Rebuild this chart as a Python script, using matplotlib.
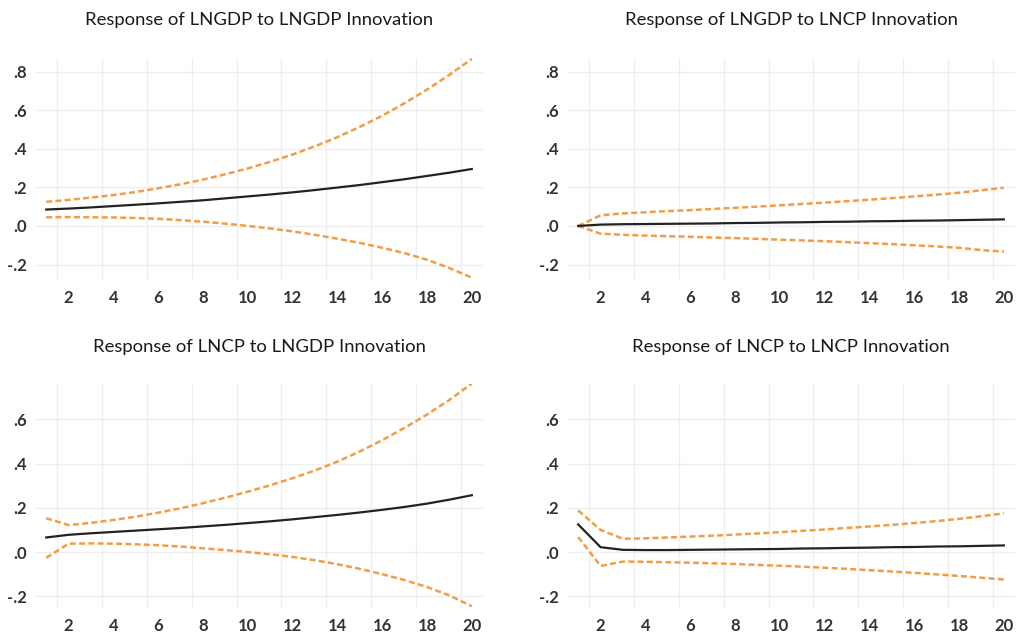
import matplotlib
matplotlib.use("Agg")
import matplotlib.pyplot as plt

periods = list(range(1, 21))

# Response of LNGDP to LNGDP Innovation
gdp_gdp = [0.085, 0.090, 0.096, 0.103, 0.110, 0.117, 0.125, 0.133, 0.143, 0.153,
           0.163, 0.174, 0.186, 0.199, 0.212, 0.227, 0.242, 0.259, 0.276, 0.295]
gdp_gdp_hi = [0.125, 0.135, 0.147, 0.160, 0.176, 0.195, 0.216, 0.240, 0.268, 0.298,
              0.332, 0.370, 0.413, 0.460, 0.513, 0.571, 0.636, 0.706, 0.783, 0.865]
gdp_gdp_lo = [0.045, 0.046, 0.045, 0.044, 0.041, 0.037, 0.030, 0.022, 0.012, 0.000,
              -0.013, -0.028, -0.046, -0.066, -0.088, -0.113, -0.141, -0.175, -0.218, -0.268]

# Response of LNGDP to LNCP Innovation
gdp_cp = [0.000, 0.007, 0.009, 0.010, 0.011, 0.012, 0.013, 0.015, 0.016, 0.018,
          0.019, 0.021, 0.022, 0.024, 0.025, 0.027, 0.028, 0.030, 0.032, 0.034]
gdp_cp_hi = [0.000, 0.055, 0.065, 0.071, 0.077, 0.082, 0.088, 0.094, 0.100, 0.107,
             0.114, 0.121, 0.128, 0.136, 0.144, 0.153, 0.162, 0.172, 0.185, 0.198]
gdp_cp_lo = [0.000, -0.040, -0.046, -0.050, -0.053, -0.056, -0.060, -0.063, -0.067, -0.071,
             -0.075, -0.079, -0.084, -0.089, -0.094, -0.100, -0.106, -0.113, -0.125, -0.133]

# Response of LNCP to LNGDP Innovation
cp_gdp = [0.066, 0.078, 0.085, 0.091, 0.097, 0.103, 0.109, 0.116, 0.123, 0.131,
          0.139, 0.148, 0.158, 0.168, 0.179, 0.191, 0.204, 0.219, 0.237, 0.257]
cp_gdp_hi = [0.153, 0.122, 0.132, 0.145, 0.160, 0.178, 0.198, 0.221, 0.246, 0.273,
             0.302, 0.334, 0.369, 0.409, 0.455, 0.506, 0.562, 0.622, 0.688, 0.762]
cp_gdp_lo = [-0.026, 0.038, 0.039, 0.038, 0.035, 0.031, 0.025, 0.017, 0.009, 0.000,
             -0.010, -0.022, -0.037, -0.055, -0.076, -0.100, -0.127, -0.158, -0.196, -0.245]

# Response of LNCP to LNCP Innovation
cp_cp = [0.125, 0.022, 0.010, 0.009, 0.009, 0.010, 0.011, 0.012, 0.013, 0.014,
         0.016, 0.017, 0.019, 0.020, 0.022, 0.023, 0.025, 0.026, 0.028, 0.030]
cp_cp_hi = [0.188, 0.100, 0.060, 0.062, 0.066, 0.070, 0.074, 0.079, 0.084, 0.090,
            0.096, 0.102, 0.109, 0.116, 0.123, 0.131, 0.140, 0.150, 0.162, 0.175]
cp_cp_lo = [0.068, -0.063, -0.043, -0.044, -0.046, -0.048, -0.051, -0.054, -0.058, -0.062,
            -0.066, -0.071, -0.076, -0.082, -0.088, -0.094, -0.101, -0.108, -0.116, -0.124]

titles = ["Response of LNGDP to LNGDP Innovation", "Response of LNGDP to LNCP Innovation",
          "Response of LNCP to LNGDP Innovation", "Response of LNCP to LNCP Innovation"]

top_ticks = [-0.2, 0.0, 0.2, 0.4, 0.6, 0.8]
top_labels = ["-.2", ".0", ".2", ".4", ".6", ".8"]
bot_ticks = [-0.2, 0.0, 0.2, 0.4, 0.6]
bot_labels = ["-.2", ".0", ".2", ".4", ".6"]

plt.rcParams['font.family'] = ['Lato', 'DejaVu Sans']

W, H = 1016, 633
fig = plt.figure(figsize=(W / 100, H / 100), dpi=100)

panels = [
    (35, 58, 280, gdp_gdp, gdp_gdp_hi, gdp_gdp_lo, (-0.28, 0.87), top_ticks, top_labels, 24),
    (567, 58, 280, gdp_cp, gdp_cp_hi, gdp_cp_lo, (-0.28, 0.87), top_ticks, top_labels, 24),
    (35, 384, 608, cp_gdp, cp_gdp_hi, cp_gdp_lo, (-0.253, 0.76), bot_ticks, bot_labels, 23),
    (567, 384, 608, cp_cp, cp_cp_hi, cp_cp_lo, (-0.253, 0.76), bot_ticks, bot_labels, 23),
]

orange = '#f29d45'
for i, (x0, ytop, ybot, mid, hi, lo, ylim, yt, ytl, tpad) in enumerate(panels):
    ax = fig.add_axes([x0 / W, 1 - ybot / H, 448 / W, (ybot - ytop) / H])
    ax.plot(periods, hi, color=orange, lw=1.8, dashes=(2.4, 1.3))
    ax.plot(periods, lo, color=orange, lw=1.8, dashes=(2.4, 1.3))
    ax.plot(periods, mid, color='#222222', lw=1.6)
    ax.set_xlim(0.5, 20.5)
    ax.set_ylim(*ylim)
    ax.set_xticks(range(2, 21, 2))
    ax.set_xticks([k + 0.5 for k in range(1, 20, 2)], minor=True)
    ax.set_yticks(yt)
    ax.set_yticklabels(ytl)
    ax.grid(False)
    ax.grid(True, which='minor', axis='x', color='#eeeeee', lw=0.9)
    ax.grid(True, which='major', axis='y', color='#eeeeee', lw=0.9)
    ax.set_axisbelow(True)
    for s in ax.spines.values():
        s.set_visible(False)
    ax.tick_params(which='both', length=0)
    ax.tick_params(axis='x', pad=7, labelsize=12, labelcolor='#333333')
    ax.tick_params(axis='y', pad=6, labelsize=12, labelcolor='#333333')
    for lab in ax.get_xticklabels() + ax.get_yticklabels():
        lab.set_fontweight('bold')
    ax.set_title(titles[i], fontsize=13.3, color='#1a1a1a', pad=tpad)

fig.savefig("out.png", dpi=100)
